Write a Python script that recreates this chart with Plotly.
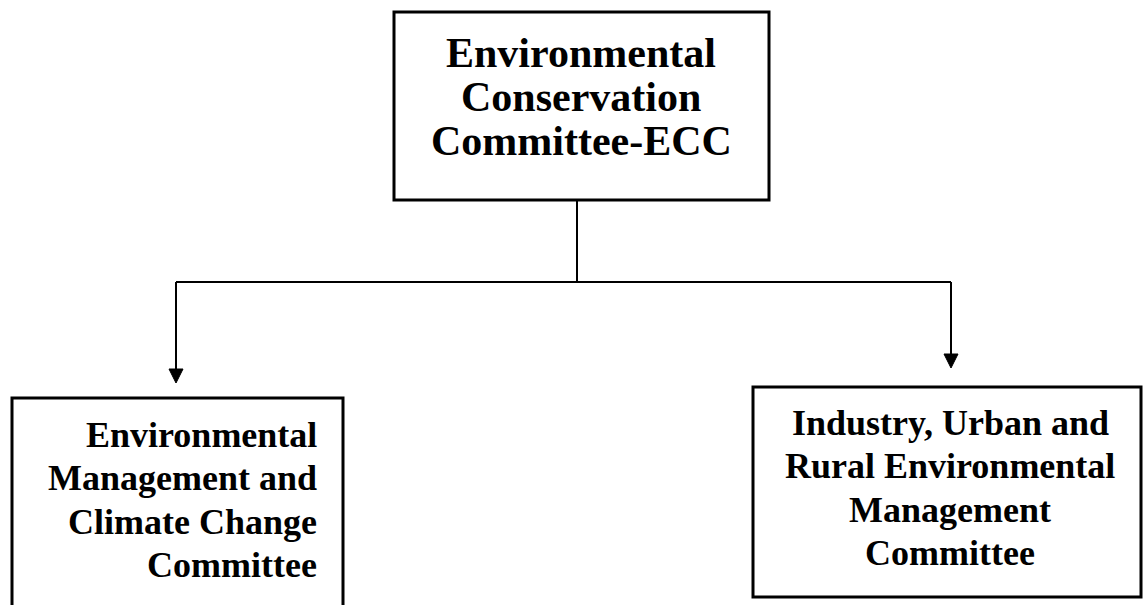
import plotly.graph_objects as go

# ---- Data: node labels (one list of lines per node) ----
top_label = ["Environmental", "Conservation", "Committee-ECC"]
left_label = ["Environmental", "Management and", "Climate Change", "Committee"]
right_label = ["Industry, Urban and", "Rural Environmental", "Management", "Committee"]

# ---- Layout geometry (pixels, y downward) ----
W, H = 1143, 605
boxes = {
    "top": dict(x0=394, y0=12, x1=769, y1=200),
    "left": dict(x0=12, y0=398, x1=343, y1=640),
    "right": dict(x0=753, y0=387, x1=1141, y1=597),
}
trunk_x, bar_y = 577, 282
left_x, right_x = 176, 951
left_tip, right_tip = 383, 368

fig = go.Figure()
fig.add_trace(go.Scatter(x=[0, W], y=[0, H], mode="markers",
                         marker=dict(opacity=0), hoverinfo="skip", showlegend=False))

shapes = []
for b in boxes.values():
    shapes.append(dict(type="rect", xref="x", yref="y", **b,
                       line=dict(color="black", width=3), fillcolor="rgba(0,0,0,0)"))

def line(x0, y0, x1, y1):
    shapes.append(dict(type="line", xref="x", yref="y", x0=x0, y0=y0, x1=x1, y1=y1,
                       line=dict(color="black", width=2)))

line(trunk_x, boxes["top"]["y1"], trunk_x, bar_y)
line(left_x, bar_y, right_x, bar_y)
line(left_x, bar_y, left_x, left_tip - 12)
line(right_x, bar_y, right_x, right_tip - 12)
for tx, ty in [(left_x, left_tip), (right_x, right_tip)]:
    shapes.append(dict(type="path", xref="x", yref="y",
                       path=f"M {tx-7},{ty-14} L {tx+7},{ty-14} L {tx},{ty} Z",
                       fillcolor="black", line=dict(color="black", width=1)))

annotations = []
def add_lines(lines, x, y_start, spacing, size, xanchor):
    for i, t in enumerate(lines):
        annotations.append(dict(x=x, y=y_start + i * spacing, xref="x", yref="y",
                                text=t, showarrow=False, xanchor=xanchor, yanchor="middle",
                                font=dict(family="Liberation Serif", size=size,
                                          color="black", weight="bold")))

add_lines(top_label, 581, 53, 44, 42, "center")
add_lines(left_label, 319, 435, 43.3, 36, "right")
add_lines(right_label, 950, 423, 43.3, 36, "center")

fig.update_layout(
    width=W, height=H, margin=dict(l=0, r=0, t=0, b=0),
    paper_bgcolor="white", plot_bgcolor="white",
    xaxis=dict(range=[0, W], visible=False, fixedrange=True),
    yaxis=dict(range=[H, 0], visible=False, fixedrange=True),
    shapes=shapes, annotations=annotations, showlegend=False,
)
fig.write_html("out.html", config={"displayModeBar": False},
               post_script="document.body.style.margin='0';document.body.style.overflow='hidden';")
